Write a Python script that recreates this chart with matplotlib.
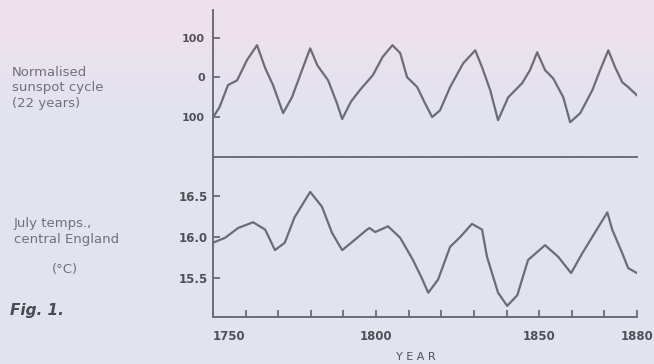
import numpy as np
import matplotlib
matplotlib.use("Agg")
import matplotlib.pyplot as plt

# normalised 22-year sunspot cycle
sun_years = [1750, 1752, 1754.6, 1757.4, 1760.4, 1763.5, 1766, 1768.4, 1771.5, 1774.2,
             1777.3, 1779.8, 1782, 1785.3, 1788, 1789.6, 1792.3, 1795, 1799, 1802,
             1805, 1807.4, 1809.5, 1812.6, 1815, 1817.2, 1819.6, 1822.7, 1826.7, 1830.4,
             1832.5, 1835, 1837.4, 1840.5, 1844.8, 1847.2, 1849.4, 1851.8, 1854.3, 1857.4,
             1859.5, 1862.6, 1866.3, 1868.7, 1871.2, 1873.3, 1875.5, 1877.3, 1880]
sun_vals = [-102, -76, -20, -8, 43, 81, 23, -20, -91, -51,
            18, 73, 30, -8, -66, -106, -62, -33, 5, 51,
            81, 61, 0, -25, -66, -101, -84, -25, 35, 68,
            25, -33, -109, -51, -15, 18, 63, 18, -3, -51,
            -114, -91, -33, 18, 68, 25, -13, -25, -46]

# July mean temperatures, central England (deg C)
temp_years = [1750, 1753.7, 1757.7, 1762.3, 1766, 1769, 1772, 1775, 1779.8, 1783.4,
              1786.5, 1789.6, 1793, 1797.2, 1798, 1799.7, 1803.7, 1807.4, 1811.3, 1814,
              1816, 1819, 1822.7, 1825.8, 1829.4, 1832.5, 1834, 1837.4, 1840.2, 1843.3,
              1846.6, 1851.8, 1855.8, 1859.8, 1863.2, 1867.2, 1870.9, 1872.4, 1875.5, 1877.3,
              1880]
temp_vals = [15.93, 15.99, 16.11, 16.18, 16.09, 15.84, 15.93, 16.24, 16.55, 16.37,
             16.05, 15.84, 15.95, 16.09, 16.11, 16.06, 16.13, 15.99, 15.72, 15.5,
             15.32, 15.48, 15.88, 16.0, 16.16, 16.09, 15.76, 15.32, 15.16, 15.29,
             15.72, 15.90, 15.76, 15.56, 15.80, 16.06, 16.30, 16.09, 15.80, 15.62,
             15.56]

sun_ticks = [100, 0, -100]
sun_ticklabels = ["100", "0", "100"]
temp_ticks = [15.5, 16.0, 16.5]
year_labels = {1750: "1750", 1800: "1800", 1850: "1850", 1880: "1880"}

bg = "#e3e3ee"
ink = "#6c6c74"
text_c = "#707078"

fig = plt.figure(figsize=(6.54, 3.64), dpi=100)
fig.patch.set_facecolor(bg)

# faint pink wash across the top of the page
wash = fig.add_axes([0, 0, 1, 1], zorder=-1)
grad = np.linspace(0, 1, 200)[:, None]
rgb_top = np.array([0.93, 0.885, 0.925])
rgb_bg = np.array(matplotlib.colors.to_rgb(bg))
w = np.clip((grad - 0.72) / 0.2, 0, 1)
img = rgb_bg * (1 - w[..., None]) + rgb_top * w[..., None]
wash.imshow(np.repeat(img, 2, axis=1), aspect="auto", origin="lower",
            extent=[0, 1, 0, 1])
wash.axis("off")

left, right = 213 / 654, 637 / 654
ax1 = fig.add_axes([left, 1 - 157 / 364, right - left, 147 / 364])
ax2 = fig.add_axes([left, 1 - 317 / 364, right - left, 160 / 364])

for ax in (ax1, ax2):
    ax.set_facecolor("none")
    ax.spines["top"].set_visible(False)
    ax.spines["right"].set_visible(False)
    for s in ("left", "bottom"):
        ax.spines[s].set_color(ink)
        ax.spines[s].set_linewidth(1.4)
    ax.set_xlim(1750, 1880)

ax1.plot(sun_years, sun_vals, color=ink, lw=1.6, solid_joinstyle="round")
ax1.set_ylim(-202, 170)
ax1.set_yticks(sun_ticks)
ax1.set_yticklabels(sun_ticklabels)
ax1.set_xticks([])
ax1.tick_params(axis="y", direction="in", length=5, width=1.3, color=ink,
                pad=6, labelsize=8, labelcolor="#505058")
for t in ax1.get_yticklabels():
    t.set_fontweight("bold")

ax2.plot(temp_years, temp_vals, color=ink, lw=1.6, solid_joinstyle="round")
ax2.set_ylim(15.024, 16.976)
ax2.set_yticks(temp_ticks)
ax2.set_yticklabels([f"{v:.1f}" for v in temp_ticks])
ax2.set_xticks(np.arange(1750, 1881, 10))
ax2.set_xticklabels([year_labels.get(y, "") for y in range(1750, 1881, 10)])
ax2.tick_params(axis="y", direction="in", length=5, width=1.3, color=ink,
                pad=4, labelsize=8.5, labelcolor="#505058")
ax2.tick_params(axis="x", direction="in", length=5, width=1.3, color=ink,
                pad=9, labelsize=8.5, labelcolor="#505058")
for t in ax2.get_yticklabels() + ax2.get_xticklabels():
    t.set_fontweight("bold")
# first year label sits just right of the axis corner
ax2.get_xticklabels()[0].set_horizontalalignment("left")
ax2.get_xticklabels()[-1].set_horizontalalignment("center")

fig.text(416 / 654, 1 - 357 / 364, "Y E A R", ha="center", va="center",
         fontsize=8, color="#505058")

fig.text(12 / 654, 1 - 88 / 364, "Normalised\nsunspot cycle\n(22 years)",
         ha="left", va="center", fontsize=9.5, color=text_c, linespacing=1.3)
fig.text(14 / 654, 1 - 232 / 364, "July temps.,\ncentral England",
         ha="left", va="center", fontsize=9.5, color=text_c, linespacing=1.3)
fig.text(65 / 654, 1 - 270 / 364, "(°C)", ha="center", va="center",
         fontsize=9.5, color=text_c)
fig.text(10 / 654, 1 - 310 / 364, "Fig. 1.", ha="left", va="center",
         fontsize=11, fontweight="bold", fontstyle="italic", color="#4a4a52")

fig.savefig("out.png", dpi=100, facecolor=fig.get_facecolor())
